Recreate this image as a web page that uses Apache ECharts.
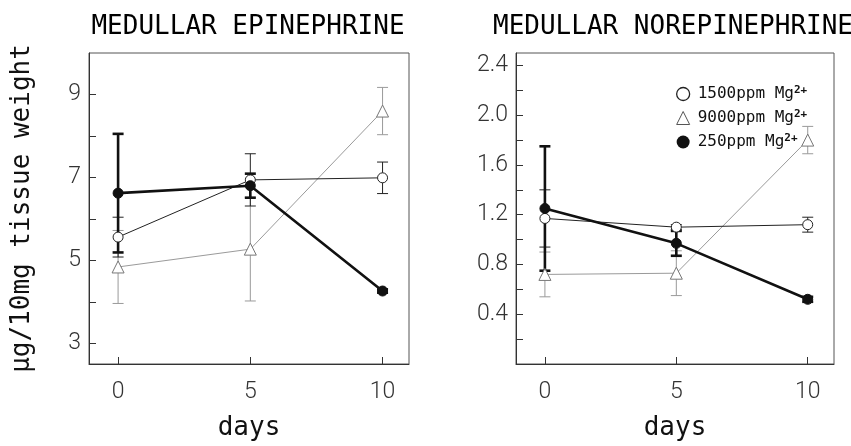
<!DOCTYPE html>
<html>
<head>
<meta charset="utf-8">
<script src="https://cdn.jsdelivr.net/npm/echarts@6/dist/echarts.min.js"></script>
<style>html,body{margin:0;padding:0;background:#fff;}#c{width:851px;height:446px;}</style>
</head>
<body>
<div id="c"></div>
<script>
// ---- data ----
const days = [0, 5, 10];
const dayTicks = [0, 5, 10];
const epiTicks = [3, 4, 5, 6, 7, 8, 9];
const epiLabels = [3, 5, 7, 9];
const norTicks = [0.2, 0.4, 0.6, 0.8, 1.0, 1.2, 1.4, 1.6, 1.8, 2.0, 2.2, 2.4];
const norLabels = [0.4, 0.8, 1.2, 1.6, 2.0, 2.4];
const seriesNames = ['1500ppm Mg', '9000ppm Mg', '250ppm Mg'];

const epi1500 = [5.56, 6.94, 6.99];
const epi1500Err = [0.48, 0.63, 0.38];
const epi9000 = [4.84, 5.27, 8.60];
const epi9000Err = [0.88, 1.25, 0.57];
const epi250 = [6.62, 6.80, 4.26];
const epi250Err = [1.43, 0.29, 0.04];

const nor1500 = [1.17, 1.10, 1.12];
const nor1500Err = [0.23, 0.02, 0.06];
const nor9000 = [0.72, 0.73, 1.80];
const nor9000Err = [0.18, 0.18, 0.11];
const nor250 = [1.25, 0.97, 0.52];
const nor250Err = [0.50, 0.10, 0.02];

// ---- styles ----
const mono = 'DejaVu Sans Mono';
const styles = {
  '1500ppm Mg': {line: '#222', width: 1, symbol: 'circle', size: 10, fill: '#fff', stroke: '#222', sw: 1},
  '9000ppm Mg': {line: '#9a9a9a', width: 1, symbol: 'triangle', size: 12, fill: '#fff', stroke: '#777', sw: 1},
  '250ppm Mg':  {line: '#111', width: 2.6, symbol: 'circle', size: 10, fill: '#111', stroke: '#111', sw: 1}
};

function pts(vals) { return days.map((d, i) => [d, vals[i]]); }
function errs(vals, e) { return days.map((d, i) => [d, vals[i] - e[i], vals[i] + e[i]]); }

function errSeries(name, idx, vals, e) {
  const s = styles[name];
  return {
    type: 'custom', name: name, xAxisIndex: idx, yAxisIndex: idx, z: 3,
    data: errs(vals, e),
    renderItem: function (params, api) {
      const lo = api.coord([api.value(0), api.value(1)]);
      const hi = api.coord([api.value(0), api.value(2)]);
      const w = 5.5;
      const st = {stroke: s.line, lineWidth: s.width, fill: null};
      return {type: 'group', children: [
        {type: 'line', shape: {x1: lo[0], y1: lo[1], x2: hi[0], y2: hi[1]}, style: st},
        {type: 'line', shape: {x1: lo[0] - w, y1: lo[1], x2: lo[0] + w, y2: lo[1]}, style: st},
        {type: 'line', shape: {x1: hi[0] - w, y1: hi[1], x2: hi[0] + w, y2: hi[1]}, style: st}
      ]};
    }
  };
}
function lineSeries(name, idx, vals) {
  const s = styles[name];
  return {
    type: 'line', name: name, xAxisIndex: idx, yAxisIndex: idx, z: name === '250ppm Mg' ? 6 : 4,
    data: pts(vals), symbol: s.symbol, symbolSize: s.size, showSymbol: true,
    lineStyle: {color: s.line, width: s.width},
    itemStyle: {color: s.fill, borderColor: s.stroke, borderWidth: s.sw, opacity: 1},
    animation: false
  };
}

function xAx(idx) {
  return {
    type: 'value', gridIndex: idx, min: -1.1, max: 11,
    name: 'days', nameLocation: 'middle', nameGap: 51,
    nameTextStyle: {fontFamily: mono, fontSize: 26, color: '#111'},
    axisLine: {show: true, onZero: false, lineStyle: {color: '#333', width: 1}},
    axisTick: {show: true, inside: true, length: 7, customValues: dayTicks, lineStyle: {color: '#333'}},
    axisLabel: {customValues: dayTicks, fontFamily: 'Roboto', fontWeight: 300, fontSize: 23, color: '#333', margin: 17},
    splitLine: {show: false}
  };
}
function yAx(idx, min, max, ticks, labels, fmt, name) {
  return {
    type: 'value', gridIndex: idx, min: min, max: max,
    name: name || '', nameLocation: 'middle', nameRotate: 90, nameGap: 54,
    nameTextStyle: {fontFamily: mono, fontSize: 26, color: '#111'},
    axisLine: {show: true, onZero: false, lineStyle: {color: '#333', width: 1}},
    axisTick: {show: true, inside: true, length: 7, customValues: ticks, lineStyle: {color: '#333'}},
    axisLabel: {customValues: labels, formatter: fmt, fontFamily: 'Roboto', fontWeight: 300, fontSize: 23, color: '#333', margin: 8},
    splitLine: {show: false}
  };
}

const option = {
  backgroundColor: '#fff',
  animation: false,
  title: [
    {text: 'MEDULLAR EPINEPHRINE', left: 243, top: 9, textAlign: 'center',
     textStyle: {fontFamily: mono, fontSize: 26, fontWeight: 'normal', color: '#000'}},
    {text: 'MEDULLAR NOREPINEPHRINE', left: 668, top: 9, textAlign: 'center',
     textStyle: {fontFamily: mono, fontSize: 26, fontWeight: 'normal', color: '#000'}}
  ],
  legend: {
    orient: 'vertical', left: 671, top: 80, itemWidth: 13, itemHeight: 13, itemGap: 6,
    selectedMode: false,
    data: [
      {name: '1500ppm Mg', icon: 'circle', itemStyle: {color: '#fff', borderColor: '#222', borderWidth: 1.3}},
      {name: '9000ppm Mg', icon: 'triangle', itemStyle: {color: '#fff', borderColor: '#555', borderWidth: 1}},
      {name: '250ppm Mg', icon: 'circle', itemStyle: {color: '#111', borderColor: '#111', borderWidth: 0}}
    ],
    formatter: function (n) { return '{t|' + n + '}{s|2+}'; },
    textStyle: {
      color: '#111', fontFamily: mono, fontSize: 16,
      rich: {
        t: {fontFamily: mono, fontSize: 16, color: '#111', lineHeight: 18, padding: [0, 0, 0, 3]},
        s: {fontFamily: mono, fontSize: 11, fontWeight: 'bold', color: '#111', verticalAlign: 'top', lineHeight: 18, padding: [0, 0, 7, 0]}
      }
    }
  },
  grid: [
    {left: 89, top: 53, width: 320, height: 320, show: true, borderColor: '#555', borderWidth: 1, backgroundColor: 'transparent'},
    {left: 516, top: 53, width: 318, height: 320, show: true, borderColor: '#555', borderWidth: 1, backgroundColor: 'transparent'}
  ],
  xAxis: [xAx(0), xAx(1)],
  yAxis: [
    yAx(0, 2.5, 10, epiTicks, epiLabels, v => String(v), '\u00b5g/10mg tissue weight'),
    yAx(1, 0, 2.5, norTicks, norLabels, v => v.toFixed(1))
  ],
  series: [
    errSeries('9000ppm Mg', 0, epi9000, epi9000Err),
    errSeries('1500ppm Mg', 0, epi1500, epi1500Err),
    errSeries('250ppm Mg', 0, epi250, epi250Err),
    lineSeries('9000ppm Mg', 0, epi9000),
    lineSeries('1500ppm Mg', 0, epi1500),
    lineSeries('250ppm Mg', 0, epi250),
    errSeries('9000ppm Mg', 1, nor9000, nor9000Err),
    errSeries('1500ppm Mg', 1, nor1500, nor1500Err),
    errSeries('250ppm Mg', 1, nor250, nor250Err),
    lineSeries('9000ppm Mg', 1, nor9000),
    lineSeries('1500ppm Mg', 1, nor1500),
    lineSeries('250ppm Mg', 1, nor250)
  ]
};
const chart = echarts.init(document.getElementById('c'), null, {renderer: 'canvas'});
chart.setOption(option);
</script>
</body>
</html>
